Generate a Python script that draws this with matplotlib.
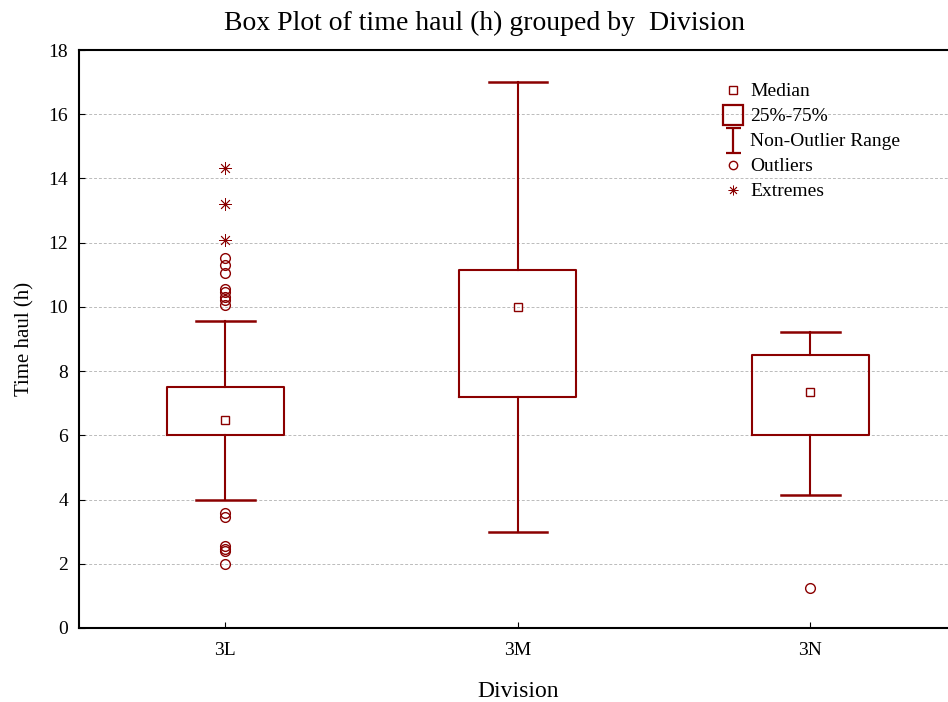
import numpy as np
import matplotlib.pyplot as plt
from matplotlib.lines import Line2D
from matplotlib.path import Path

plt.rcParams['font.family'] = ['Liberation Serif', 'DejaVu Serif']

# data
divisions = ['3L', '3M', '3N']
medians = [6.48, 10.0, 7.35]
q1 = [6.0, 7.18, 6.02]
q3 = [7.5, 11.15, 8.5]
whisk_lo = [4.0, 3.0, 4.15]
whisk_hi = [9.57, 17.0, 9.22]
outliers = [
    [10.05, 10.2, 10.3, 10.45, 10.55, 11.05, 11.3, 11.52, 3.58, 3.45, 2.55, 2.45, 2.4, 2.0],
    [],
    [1.25],
]
extremes = [[14.32, 13.2, 12.08], [], []]

col = '#8b0000'

fig = plt.figure(figsize=(9.48, 7.02), dpi=100)
ax = fig.add_axes([79 / 948, 74 / 702, 877.5 / 948, 578 / 702])

stats = []
for i, name in enumerate(divisions):
    stats.append(dict(label=name, med=medians[i], q1=q1[i], q3=q3[i],
                      whislo=whisk_lo[i], whishi=whisk_hi[i], fliers=outliers[i]))

pos = np.arange(len(divisions))
ax.bxp(stats, positions=pos, widths=0.4,
       boxprops=dict(color=col, linewidth=1.5),
       whiskerprops=dict(color=col, linewidth=1.5),
       capprops=dict(color=col, linewidth=1.8),
       medianprops=dict(visible=False),
       flierprops=dict(marker='o', markerfacecolor='none', markeredgecolor=col,
                       markersize=7, markeredgewidth=1),
       capwidths=0.2)

# median squares
ax.plot(pos, medians, ls='none', marker='s', markersize=6, markerfacecolor='none',
        markeredgecolor=col, markeredgewidth=1)

# extremes
for i, ex in enumerate(extremes):
    if ex:
        ax.plot([pos[i]] * len(ex), ex, ls='none', marker=(8, 2, 0), markersize=9,
                color=col, markeredgewidth=0.6)

ax.set_xlim(-0.5, 2.5)
ax.set_ylim(0, 18)
ax.set_yticks(np.arange(0, 19, 2))
ax.set_xticks(pos)
ax.set_xticklabels(divisions)
ax.tick_params(axis='y', direction='in', length=4, labelsize=14, pad=8)
ax.tick_params(axis='x', direction='in', length=4, labelsize=14, pad=10)
ax.yaxis.grid(True, linestyle=(0, (3, 2)), color='#bbbbbb', linewidth=0.7)
ax.set_axisbelow(True)
for s in ax.spines.values():
    s.set_linewidth(1.5)
    s.set_color('black')

ax.set_xlabel('Division', fontsize=17, labelpad=16)
ax.set_ylabel('Time haul (h)', fontsize=15, labelpad=10)
fig.suptitle('Box Plot of time haul (h) grouped by  Division', fontsize=20, x=0.511, y=0.985)

# legend
ibeam = Path([(0, -1), (0, 1), (-0.6, 1), (0.6, 1), (-0.6, -1), (0.6, -1)],
             [Path.MOVETO, Path.LINETO, Path.MOVETO, Path.LINETO, Path.MOVETO, Path.LINETO])
handles = [
    Line2D([], [], ls='none', marker='s', markersize=6, markerfacecolor='none',
           markeredgecolor=col),
    Line2D([], [], ls='none', marker='s', markersize=14, markerfacecolor='none',
           markeredgecolor=col, markeredgewidth=1.6),
    Line2D([], [], ls='none', marker=ibeam, markersize=18, color=col, markeredgewidth=1.6),
    Line2D([], [], ls='none', marker='o', markersize=6, markerfacecolor='none',
           markeredgecolor=col),
    Line2D([], [], ls='none', marker=(8, 2, 0), markersize=7, color=col, markeredgewidth=0.6),
]
labels = ['Median', '25%-75%', 'Non-Outlier Range', 'Outliers', 'Extremes']
ax.legend(handles, labels, loc='upper left', bbox_to_anchor=(714 / 948, 1 - 73 / 702),
          bbox_transform=fig.transFigure, frameon=False, fontsize=14,
          handlelength=1.0, handletextpad=0.35, labelspacing=0.38, borderpad=0)

fig.savefig('out.png', dpi=100)
